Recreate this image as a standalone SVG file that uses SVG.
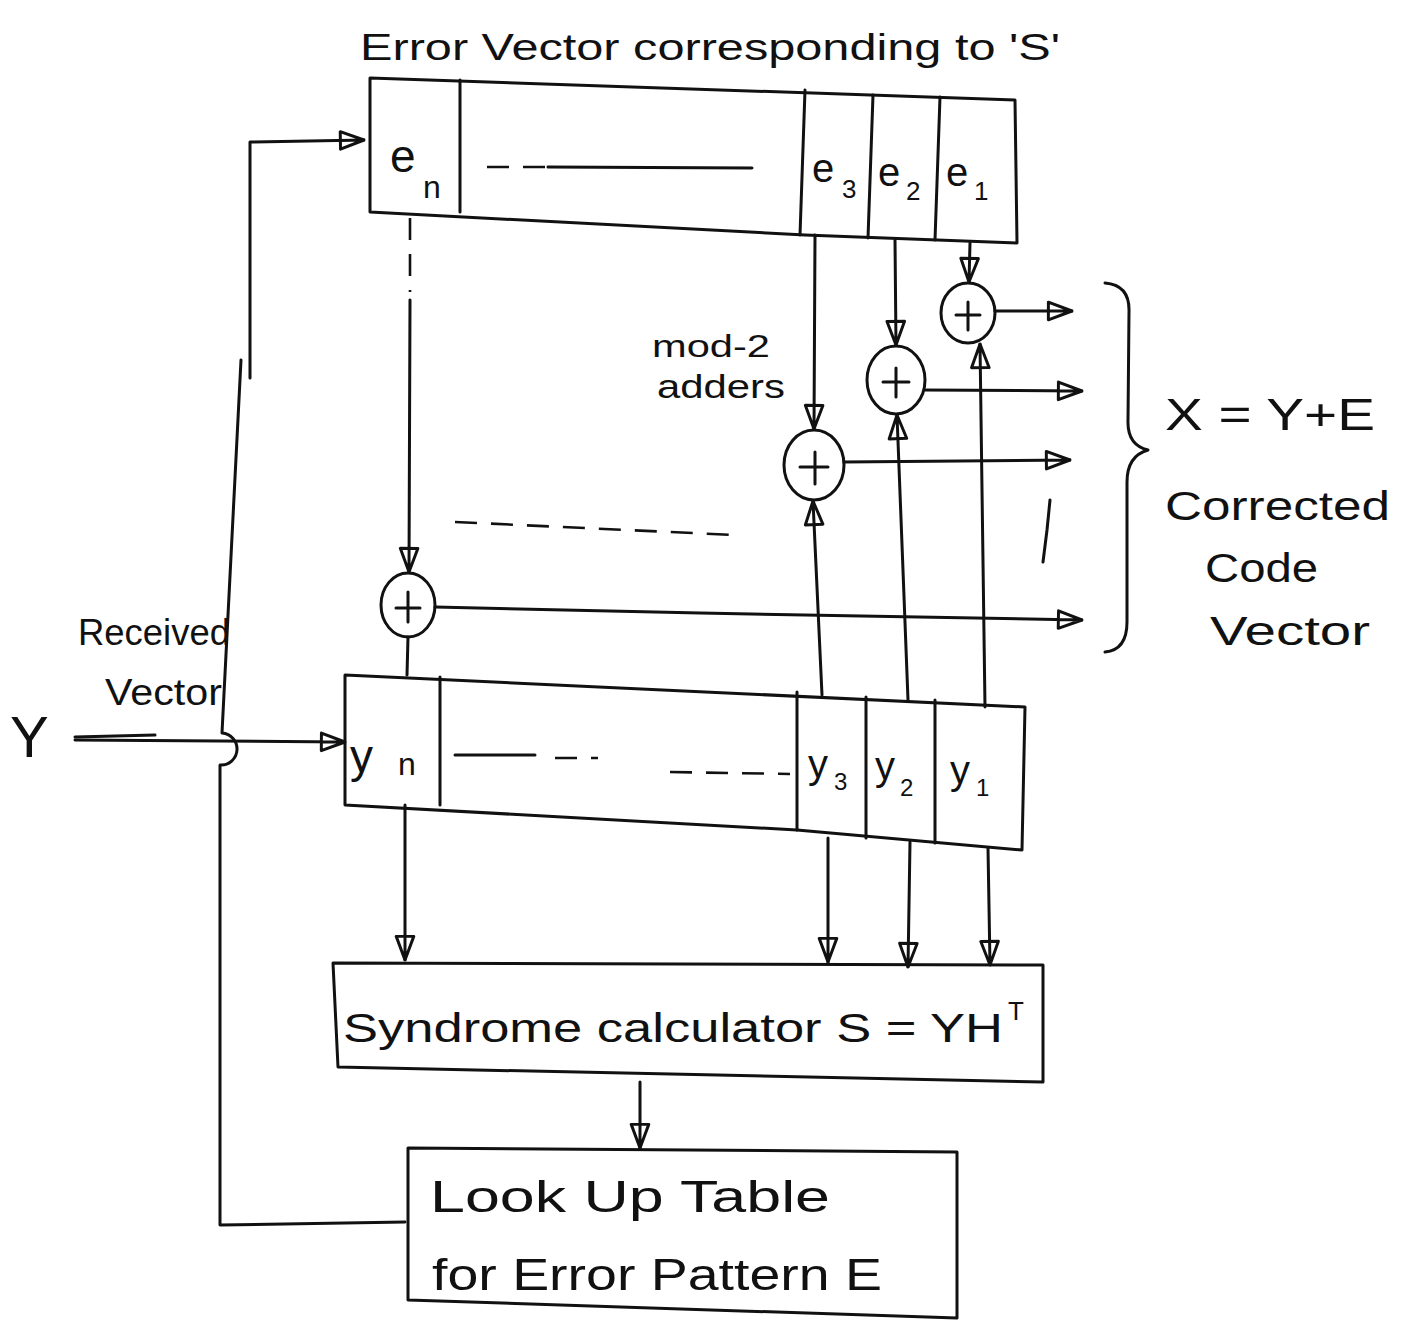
<svg xmlns="http://www.w3.org/2000/svg" width="1415" height="1322" viewBox="0 0 1415 1322">
<style>
.ln{fill:none;stroke:#111;stroke-width:3;stroke-linecap:round;stroke-linejoin:round}
.bx{fill:#fff;stroke:#111;stroke-width:3;stroke-linejoin:round}
.ad{fill:#fff;stroke:#111;stroke-width:3}
.dash{fill:none;stroke:#111;stroke-width:2.6;stroke-dasharray:22 14}
.t{font-family:"Liberation Sans","DejaVu Sans",sans-serif;fill:#111}
</style>
<defs>
<marker id="ar" viewBox="0 0 20 16" refX="19" refY="8" markerWidth="27" markerHeight="22" orient="auto" markerUnits="userSpaceOnUse">
<path d="M1.5,1.5 L19,8 L1.5,14.5 Z M1.5,8 L19,8" fill="#fff" stroke="#111" stroke-width="2.2" stroke-linejoin="round"/>
</marker>
</defs>
<rect width="1415" height="1322" fill="#fff"/>

<text class="t" x="360" y="60" font-size="36" textLength="700" lengthAdjust="spacingAndGlyphs">Error Vector corresponding to 'S'</text>

<g id="error-register">
<path class="bx" d="M370,78 L1015,100 L1017,243 L805,235 L370,212 Z"/>
<path class="ln" d="M460,80 L460,212 M805,90 L800,235 M873,95 L868,238 M940,97 L935,240"/>
<path class="dash" d="M487,167 L545,167"/>
<path class="ln" d="M548,167 L752,168"/>
<text class="t" x="390" y="172" font-size="46">e</text>
<text class="t" x="423" y="198" font-size="32">n</text>
<text class="t" x="812" y="182" font-size="40">e</text>
<text class="t" x="842" y="198" font-size="26">3</text>
<text class="t" x="878" y="186" font-size="40">e</text>
<text class="t" x="906" y="200" font-size="26">2</text>
<text class="t" x="946" y="186" font-size="40">e</text>
<text class="t" x="974" y="200" font-size="26">1</text>
</g>

<g id="received-register">
<path class="bx" d="M345,675 L1025,707 L1022,850 L797,830 L345,805 Z"/>
<path class="ln" d="M440,677 L440,805 M797,692 L797,830 M866,697 L866,838 M935,700 L935,843"/>
<path class="ln" d="M455,755 L535,755"/>
<path class="dash" d="M555,758 L598,758 M670,772 L790,774"/>
<text class="t" x="350" y="772" font-size="46">y</text>
<text class="t" x="398" y="775" font-size="32">n</text>
<text class="t" x="808" y="778" font-size="40">y</text>
<text class="t" x="834" y="790" font-size="24">3</text>
<text class="t" x="875" y="780" font-size="40">y</text>
<text class="t" x="900" y="796" font-size="24">2</text>
<text class="t" x="950" y="784" font-size="40">y</text>
<text class="t" x="976" y="796" font-size="24">1</text>
</g>

<g id="syndrome-calculator">
<path class="bx" d="M333,963 L1043,965 L1043,1082 L338,1067 Z"/>
<text class="t" x="343" y="1042" font-size="40" textLength="660" lengthAdjust="spacingAndGlyphs">Syndrome calculator S = YH</text>
<text class="t" x="1008" y="1020" font-size="26">T</text>
</g>

<g id="lookup-table">
<path class="bx" d="M408,1148 L957,1152 L957,1318 L408,1300 Z"/>
<text class="t" x="430" y="1212" font-size="44" textLength="400" lengthAdjust="spacingAndGlyphs">Look Up Table</text>
<text class="t" x="432" y="1290" font-size="44" textLength="450" lengthAdjust="spacingAndGlyphs">for Error Pattern E</text>
</g>

<g id="adder-1">
<ellipse class="ad" cx="968" cy="313" rx="27" ry="30"/>
<path class="ln" d="M956,315 L980,315 M968,302 L968,330"/>
</g>
<g id="adder-2">
<ellipse class="ad" cx="896" cy="380" rx="29" ry="34"/>
<path class="ln" d="M883,382 L909,382 M896,368 L896,397"/>
</g>
<g id="adder-3">
<ellipse class="ad" cx="814" cy="465" rx="30" ry="35"/>
<path class="ln" d="M800,467 L828,467 M815,452 L815,484"/>
</g>
<g id="adder-n">
<ellipse class="ad" cx="408" cy="605" rx="27" ry="32"/>
<path class="ln" d="M396,608 L420,608 M408,592 L408,622"/>
</g>

<g id="labels">
<text class="t" x="652" y="357" font-size="32" textLength="118" lengthAdjust="spacingAndGlyphs">mod-2</text>
<text class="t" x="657" y="398" font-size="34" textLength="128" lengthAdjust="spacingAndGlyphs">adders</text>
<text class="t" x="78" y="645" font-size="36" textLength="152" lengthAdjust="spacingAndGlyphs">Received</text>
<text class="t" x="105" y="705" font-size="36" textLength="117" lengthAdjust="spacingAndGlyphs">Vector</text>
<text class="t" x="10" y="757" font-size="58">Y</text>
<text class="t" x="1165" y="430" font-size="44" textLength="210" lengthAdjust="spacingAndGlyphs">X = Y+E</text>
<text class="t" x="1165" y="520" font-size="40" textLength="225" lengthAdjust="spacingAndGlyphs">Corrected</text>
<text class="t" x="1205" y="582" font-size="40" textLength="113" lengthAdjust="spacingAndGlyphs">Code</text>
<text class="t" x="1210" y="645" font-size="40" textLength="160" lengthAdjust="spacingAndGlyphs">Vector</text>
<path class="ln" d="M1105,283 Q1130,285 1129,312 L1128,420 Q1127,445 1148,450 Q1127,456 1127,482 L1127,622 Q1127,650 1105,652"/>
</g>

<g id="connectors">
<path class="ln" d="M405,1222 L220,1225 L220,765 A16,16 0 0 0 222,733 L241,360"/>
<path class="ln" d="M250,378 L250,142 L364,140" marker-end="url(#ar)"/>
<path class="ln" d="M75,740 L345,742" marker-end="url(#ar)"/>
<path class="ln" d="M75,737 L155,735"/>

<path class="dash" d="M410,218 L410,292"/>
<path class="ln" d="M410,300 L409,572" marker-end="url(#ar)"/>
<path class="ln" d="M815,235 L814,429" marker-end="url(#ar)"/>
<path class="ln" d="M895,240 L896,345" marker-end="url(#ar)"/>
<path class="ln" d="M970,243 L969,282" marker-end="url(#ar)"/>

<path class="ln" d="M985,707 L980,344" marker-end="url(#ar)"/>
<path class="ln" d="M908,700 L897,415" marker-end="url(#ar)"/>
<path class="ln" d="M822,695 L813,501" marker-end="url(#ar)"/>
<path class="ln" d="M407,675 L408,637"/>

<path class="ln" d="M995,311 L1072,311" marker-end="url(#ar)"/>
<path class="ln" d="M925,390 L1082,391" marker-end="url(#ar)"/>
<path class="ln" d="M844,462 L1070,460" marker-end="url(#ar)"/>
<path class="ln" d="M435,607 L700,613 L1082,620" marker-end="url(#ar)"/>

<path class="dash" d="M455,522 L735,535"/>
<path class="ln" d="M1050,500 L1047,530 L1043,562"/>

<path class="ln" d="M405,805 L405,960" marker-end="url(#ar)"/>
<path class="ln" d="M828,838 L828,962" marker-end="url(#ar)"/>
<path class="ln" d="M910,842 L908,967" marker-end="url(#ar)"/>
<path class="ln" d="M988,848 L990,965" marker-end="url(#ar)"/>

<path class="ln" d="M640,1082 L640,1148" marker-end="url(#ar)"/>
</g>
</svg>
